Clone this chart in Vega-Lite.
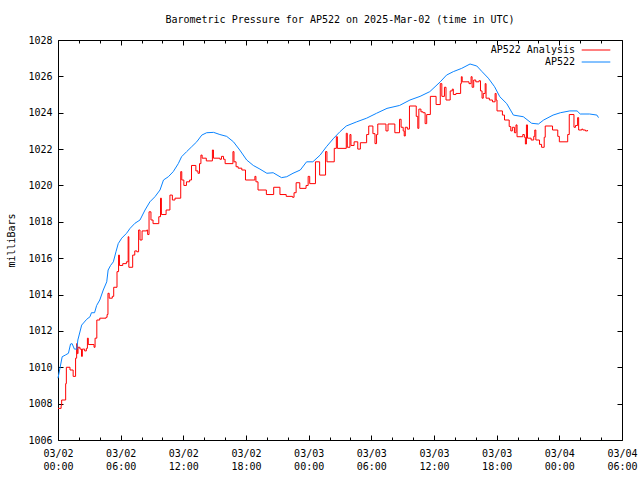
{
  "$schema": "https://vega.github.io/schema/vega-lite/v6.json",
  "width": 564,
  "height": 400,
  "autosize": {"type": "none"},
  "padding": {"left": 58, "top": 40, "right": 18, "bottom": 40},
  "title": {
    "text": "Barometric Pressure for AP522 on 2025-Mar-02 (time in UTC)",
    "font": "DejaVu Sans Mono", "fontSize": 10, "fontWeight": "normal", "color": "black",
    "frame": "group", "anchor": "middle", "offset": 10
  },
  "config": {
    "view": {"stroke": null},
    "font": "DejaVu Sans Mono",
    "axis": {
      "domain": true, "domainColor": "black", "domainWidth": 1,
      "grid": false,
      "tickColor": "black", "tickWidth": 1, "tickSize": -5,
      "labelFont": "DejaVu Sans Mono", "labelFontSize": 10, "labelColor": "black",
      "labelFlush": false, "labelOverlap": false, "labelBound": false,
      "titleFont": "DejaVu Sans Mono", "titleFontSize": 10, "titleFontWeight": "normal", "titleColor": "black"
    },
    "legend": {
      "orient": "none", "legendX": 531, "legendY": 3, "padding": 0,
      "symbolType": "M-2.2,0H2.2", "symbolSize": 169, "symbolStrokeWidth": 1,
      "labelAlign": "right", "labelOffset": -28,
      "labelFont": "DejaVu Sans Mono", "labelFontSize": 10, "labelColor": "black",
      "rowPadding": 0, "title": null
    }
  },
  "data": {"values": [
    {"time": "2025-03-02T00:00:00Z", "series": "AP522 Analysis", "mb": 1007.74},
    {"time": "2025-03-02T00:18:00Z", "series": "AP522 Analysis", "mb": 1007.9},
    {"time": "2025-03-02T00:21:00Z", "series": "AP522 Analysis", "mb": 1008.2},
    {"time": "2025-03-02T00:44:00Z", "series": "AP522 Analysis", "mb": 1009.1},
    {"time": "2025-03-02T00:48:00Z", "series": "AP522 Analysis", "mb": 1010.0},
    {"time": "2025-03-02T01:09:00Z", "series": "AP522 Analysis", "mb": 1009.85},
    {"time": "2025-03-02T01:27:00Z", "series": "AP522 Analysis", "mb": 1009.5},
    {"time": "2025-03-02T01:41:00Z", "series": "AP522 Analysis", "mb": 1010.5},
    {"time": "2025-03-02T01:47:00Z", "series": "AP522 Analysis", "mb": 1011.3},
    {"time": "2025-03-02T01:51:00Z", "series": "AP522 Analysis", "mb": 1010.75},
    {"time": "2025-03-02T01:55:00Z", "series": "AP522 Analysis", "mb": 1011.1},
    {"time": "2025-03-02T02:06:00Z", "series": "AP522 Analysis", "mb": 1011.0},
    {"time": "2025-03-02T02:15:00Z", "series": "AP522 Analysis", "mb": 1010.6},
    {"time": "2025-03-02T02:20:00Z", "series": "AP522 Analysis", "mb": 1011.0},
    {"time": "2025-03-02T02:33:00Z", "series": "AP522 Analysis", "mb": 1010.9},
    {"time": "2025-03-02T02:43:00Z", "series": "AP522 Analysis", "mb": 1011.04},
    {"time": "2025-03-02T02:49:00Z", "series": "AP522 Analysis", "mb": 1011.6},
    {"time": "2025-03-02T02:54:00Z", "series": "AP522 Analysis", "mb": 1011.25},
    {"time": "2025-03-02T03:27:00Z", "series": "AP522 Analysis", "mb": 1011.1},
    {"time": "2025-03-02T03:33:00Z", "series": "AP522 Analysis", "mb": 1011.6},
    {"time": "2025-03-02T03:43:00Z", "series": "AP522 Analysis", "mb": 1012.6},
    {"time": "2025-03-02T04:00:00Z", "series": "AP522 Analysis", "mb": 1012.7},
    {"time": "2025-03-02T04:36:00Z", "series": "AP522 Analysis", "mb": 1012.75},
    {"time": "2025-03-02T04:42:00Z", "series": "AP522 Analysis", "mb": 1012.9},
    {"time": "2025-03-02T04:47:00Z", "series": "AP522 Analysis", "mb": 1014.07},
    {"time": "2025-03-02T04:54:00Z", "series": "AP522 Analysis", "mb": 1013.8},
    {"time": "2025-03-02T05:12:00Z", "series": "AP522 Analysis", "mb": 1013.9},
    {"time": "2025-03-02T05:20:00Z", "series": "AP522 Analysis", "mb": 1014.4},
    {"time": "2025-03-02T05:39:00Z", "series": "AP522 Analysis", "mb": 1015.26},
    {"time": "2025-03-02T05:48:00Z", "series": "AP522 Analysis", "mb": 1016.17},
    {"time": "2025-03-02T05:53:00Z", "series": "AP522 Analysis", "mb": 1015.6},
    {"time": "2025-03-02T06:12:00Z", "series": "AP522 Analysis", "mb": 1015.7},
    {"time": "2025-03-02T06:33:00Z", "series": "AP522 Analysis", "mb": 1015.8},
    {"time": "2025-03-02T06:43:00Z", "series": "AP522 Analysis", "mb": 1017.18},
    {"time": "2025-03-02T06:47:00Z", "series": "AP522 Analysis", "mb": 1015.5},
    {"time": "2025-03-02T07:09:00Z", "series": "AP522 Analysis", "mb": 1016.17},
    {"time": "2025-03-02T07:21:00Z", "series": "AP522 Analysis", "mb": 1016.4},
    {"time": "2025-03-02T07:33:00Z", "series": "AP522 Analysis", "mb": 1016.35},
    {"time": "2025-03-02T07:43:00Z", "series": "AP522 Analysis", "mb": 1017.55},
    {"time": "2025-03-02T07:51:00Z", "series": "AP522 Analysis", "mb": 1017.0},
    {"time": "2025-03-02T08:03:00Z", "series": "AP522 Analysis", "mb": 1017.5},
    {"time": "2025-03-02T08:30:00Z", "series": "AP522 Analysis", "mb": 1017.55},
    {"time": "2025-03-02T08:35:00Z", "series": "AP522 Analysis", "mb": 1017.3},
    {"time": "2025-03-02T08:43:00Z", "series": "AP522 Analysis", "mb": 1018.55},
    {"time": "2025-03-02T08:54:00Z", "series": "AP522 Analysis", "mb": 1018.1},
    {"time": "2025-03-02T09:06:00Z", "series": "AP522 Analysis", "mb": 1017.9},
    {"time": "2025-03-02T09:39:00Z", "series": "AP522 Analysis", "mb": 1018.28},
    {"time": "2025-03-02T09:49:00Z", "series": "AP522 Analysis", "mb": 1019.3},
    {"time": "2025-03-02T09:54:00Z", "series": "AP522 Analysis", "mb": 1018.4},
    {"time": "2025-03-02T10:21:00Z", "series": "AP522 Analysis", "mb": 1018.65},
    {"time": "2025-03-02T10:43:00Z", "series": "AP522 Analysis", "mb": 1019.47},
    {"time": "2025-03-02T10:57:00Z", "series": "AP522 Analysis", "mb": 1019.2},
    {"time": "2025-03-02T11:12:00Z", "series": "AP522 Analysis", "mb": 1019.3},
    {"time": "2025-03-02T11:45:00Z", "series": "AP522 Analysis", "mb": 1020.76},
    {"time": "2025-03-02T11:51:00Z", "series": "AP522 Analysis", "mb": 1020.3},
    {"time": "2025-03-02T12:03:00Z", "series": "AP522 Analysis", "mb": 1020.0},
    {"time": "2025-03-02T12:18:00Z", "series": "AP522 Analysis", "mb": 1020.2},
    {"time": "2025-03-02T12:36:00Z", "series": "AP522 Analysis", "mb": 1020.3},
    {"time": "2025-03-02T12:47:00Z", "series": "AP522 Analysis", "mb": 1021.1},
    {"time": "2025-03-02T13:12:00Z", "series": "AP522 Analysis", "mb": 1020.8},
    {"time": "2025-03-02T13:24:00Z", "series": "AP522 Analysis", "mb": 1020.67},
    {"time": "2025-03-02T13:33:00Z", "series": "AP522 Analysis", "mb": 1021.2},
    {"time": "2025-03-02T13:41:00Z", "series": "AP522 Analysis", "mb": 1021.67},
    {"time": "2025-03-02T13:48:00Z", "series": "AP522 Analysis", "mb": 1021.5},
    {"time": "2025-03-02T14:12:00Z", "series": "AP522 Analysis", "mb": 1021.35},
    {"time": "2025-03-02T14:47:00Z", "series": "AP522 Analysis", "mb": 1021.95},
    {"time": "2025-03-02T14:53:00Z", "series": "AP522 Analysis", "mb": 1021.5},
    {"time": "2025-03-02T15:30:00Z", "series": "AP522 Analysis", "mb": 1021.44},
    {"time": "2025-03-02T15:39:00Z", "series": "AP522 Analysis", "mb": 1021.6},
    {"time": "2025-03-02T15:51:00Z", "series": "AP522 Analysis", "mb": 1021.44},
    {"time": "2025-03-02T16:00:00Z", "series": "AP522 Analysis", "mb": 1021.2},
    {"time": "2025-03-02T16:45:00Z", "series": "AP522 Analysis", "mb": 1021.86},
    {"time": "2025-03-02T16:51:00Z", "series": "AP522 Analysis", "mb": 1021.3},
    {"time": "2025-03-02T17:03:00Z", "series": "AP522 Analysis", "mb": 1021.03},
    {"time": "2025-03-02T17:15:00Z", "series": "AP522 Analysis", "mb": 1020.95},
    {"time": "2025-03-02T17:36:00Z", "series": "AP522 Analysis", "mb": 1020.85},
    {"time": "2025-03-02T17:57:00Z", "series": "AP522 Analysis", "mb": 1020.3},
    {"time": "2025-03-02T18:51:00Z", "series": "AP522 Analysis", "mb": 1020.5},
    {"time": "2025-03-02T18:57:00Z", "series": "AP522 Analysis", "mb": 1020.2},
    {"time": "2025-03-02T19:09:00Z", "series": "AP522 Analysis", "mb": 1019.75},
    {"time": "2025-03-02T19:57:00Z", "series": "AP522 Analysis", "mb": 1019.5},
    {"time": "2025-03-02T20:39:00Z", "series": "AP522 Analysis", "mb": 1019.9},
    {"time": "2025-03-02T21:15:00Z", "series": "AP522 Analysis", "mb": 1019.5},
    {"time": "2025-03-02T21:51:00Z", "series": "AP522 Analysis", "mb": 1019.4},
    {"time": "2025-03-02T22:27:00Z", "series": "AP522 Analysis", "mb": 1019.35},
    {"time": "2025-03-02T22:36:00Z", "series": "AP522 Analysis", "mb": 1019.6},
    {"time": "2025-03-02T22:48:00Z", "series": "AP522 Analysis", "mb": 1020.15},
    {"time": "2025-03-02T23:09:00Z", "series": "AP522 Analysis", "mb": 1019.84},
    {"time": "2025-03-02T23:45:00Z", "series": "AP522 Analysis", "mb": 1020.0},
    {"time": "2025-03-02T23:57:00Z", "series": "AP522 Analysis", "mb": 1020.5},
    {"time": "2025-03-03T00:06:00Z", "series": "AP522 Analysis", "mb": 1020.1},
    {"time": "2025-03-03T00:39:00Z", "series": "AP522 Analysis", "mb": 1021.3},
    {"time": "2025-03-03T01:03:00Z", "series": "AP522 Analysis", "mb": 1020.57},
    {"time": "2025-03-03T01:37:00Z", "series": "AP522 Analysis", "mb": 1021.86},
    {"time": "2025-03-03T01:45:00Z", "series": "AP522 Analysis", "mb": 1021.3},
    {"time": "2025-03-03T02:27:00Z", "series": "AP522 Analysis", "mb": 1022.04},
    {"time": "2025-03-03T02:39:00Z", "series": "AP522 Analysis", "mb": 1022.68},
    {"time": "2025-03-03T02:45:00Z", "series": "AP522 Analysis", "mb": 1022.04},
    {"time": "2025-03-03T03:36:00Z", "series": "AP522 Analysis", "mb": 1022.87},
    {"time": "2025-03-03T03:42:00Z", "series": "AP522 Analysis", "mb": 1022.1},
    {"time": "2025-03-03T03:57:00Z", "series": "AP522 Analysis", "mb": 1022.8},
    {"time": "2025-03-03T04:03:00Z", "series": "AP522 Analysis", "mb": 1022.2},
    {"time": "2025-03-03T04:21:00Z", "series": "AP522 Analysis", "mb": 1022.4},
    {"time": "2025-03-03T04:42:00Z", "series": "AP522 Analysis", "mb": 1022.0},
    {"time": "2025-03-03T04:57:00Z", "series": "AP522 Analysis", "mb": 1022.35},
    {"time": "2025-03-03T05:33:00Z", "series": "AP522 Analysis", "mb": 1022.8},
    {"time": "2025-03-03T05:45:00Z", "series": "AP522 Analysis", "mb": 1023.27},
    {"time": "2025-03-03T06:09:00Z", "series": "AP522 Analysis", "mb": 1022.85},
    {"time": "2025-03-03T06:21:00Z", "series": "AP522 Analysis", "mb": 1022.3},
    {"time": "2025-03-03T06:30:00Z", "series": "AP522 Analysis", "mb": 1022.8},
    {"time": "2025-03-03T06:37:00Z", "series": "AP522 Analysis", "mb": 1023.38},
    {"time": "2025-03-03T07:24:00Z", "series": "AP522 Analysis", "mb": 1023.0},
    {"time": "2025-03-03T07:36:00Z", "series": "AP522 Analysis", "mb": 1023.38},
    {"time": "2025-03-03T08:15:00Z", "series": "AP522 Analysis", "mb": 1022.9},
    {"time": "2025-03-03T08:42:00Z", "series": "AP522 Analysis", "mb": 1023.64},
    {"time": "2025-03-03T08:51:00Z", "series": "AP522 Analysis", "mb": 1023.2},
    {"time": "2025-03-03T09:03:00Z", "series": "AP522 Analysis", "mb": 1023.0},
    {"time": "2025-03-03T09:09:00Z", "series": "AP522 Analysis", "mb": 1022.72},
    {"time": "2025-03-03T09:15:00Z", "series": "AP522 Analysis", "mb": 1023.2},
    {"time": "2025-03-03T09:27:00Z", "series": "AP522 Analysis", "mb": 1023.1},
    {"time": "2025-03-03T09:39:00Z", "series": "AP522 Analysis", "mb": 1024.37},
    {"time": "2025-03-03T10:18:00Z", "series": "AP522 Analysis", "mb": 1023.8},
    {"time": "2025-03-03T10:27:00Z", "series": "AP522 Analysis", "mb": 1023.14},
    {"time": "2025-03-03T10:33:00Z", "series": "AP522 Analysis", "mb": 1024.2},
    {"time": "2025-03-03T10:45:00Z", "series": "AP522 Analysis", "mb": 1024.05},
    {"time": "2025-03-03T10:57:00Z", "series": "AP522 Analysis", "mb": 1024.0},
    {"time": "2025-03-03T11:09:00Z", "series": "AP522 Analysis", "mb": 1023.4},
    {"time": "2025-03-03T11:18:00Z", "series": "AP522 Analysis", "mb": 1023.9},
    {"time": "2025-03-03T11:39:00Z", "series": "AP522 Analysis", "mb": 1024.9},
    {"time": "2025-03-03T12:12:00Z", "series": "AP522 Analysis", "mb": 1024.45},
    {"time": "2025-03-03T12:36:00Z", "series": "AP522 Analysis", "mb": 1025.6},
    {"time": "2025-03-03T12:45:00Z", "series": "AP522 Analysis", "mb": 1024.9},
    {"time": "2025-03-03T13:00:00Z", "series": "AP522 Analysis", "mb": 1025.4},
    {"time": "2025-03-03T13:09:00Z", "series": "AP522 Analysis", "mb": 1024.7},
    {"time": "2025-03-03T13:33:00Z", "series": "AP522 Analysis", "mb": 1025.2},
    {"time": "2025-03-03T13:45:00Z", "series": "AP522 Analysis", "mb": 1025.3},
    {"time": "2025-03-03T13:51:00Z", "series": "AP522 Analysis", "mb": 1025.0},
    {"time": "2025-03-03T14:06:00Z", "series": "AP522 Analysis", "mb": 1025.06},
    {"time": "2025-03-03T14:33:00Z", "series": "AP522 Analysis", "mb": 1025.6},
    {"time": "2025-03-03T14:37:00Z", "series": "AP522 Analysis", "mb": 1025.98},
    {"time": "2025-03-03T14:42:00Z", "series": "AP522 Analysis", "mb": 1025.7},
    {"time": "2025-03-03T15:21:00Z", "series": "AP522 Analysis", "mb": 1025.6},
    {"time": "2025-03-03T15:33:00Z", "series": "AP522 Analysis", "mb": 1025.98},
    {"time": "2025-03-03T15:39:00Z", "series": "AP522 Analysis", "mb": 1025.4},
    {"time": "2025-03-03T15:48:00Z", "series": "AP522 Analysis", "mb": 1025.8},
    {"time": "2025-03-03T16:00:00Z", "series": "AP522 Analysis", "mb": 1025.7},
    {"time": "2025-03-03T16:18:00Z", "series": "AP522 Analysis", "mb": 1025.76},
    {"time": "2025-03-03T16:27:00Z", "series": "AP522 Analysis", "mb": 1025.2},
    {"time": "2025-03-03T16:36:00Z", "series": "AP522 Analysis", "mb": 1024.8},
    {"time": "2025-03-03T16:43:00Z", "series": "AP522 Analysis", "mb": 1025.06},
    {"time": "2025-03-03T16:54:00Z", "series": "AP522 Analysis", "mb": 1025.6},
    {"time": "2025-03-03T16:59:00Z", "series": "AP522 Analysis", "mb": 1024.8},
    {"time": "2025-03-03T17:18:00Z", "series": "AP522 Analysis", "mb": 1024.7},
    {"time": "2025-03-03T17:36:00Z", "series": "AP522 Analysis", "mb": 1024.6},
    {"time": "2025-03-03T17:51:00Z", "series": "AP522 Analysis", "mb": 1025.06},
    {"time": "2025-03-03T17:57:00Z", "series": "AP522 Analysis", "mb": 1024.7},
    {"time": "2025-03-03T18:02:00Z", "series": "AP522 Analysis", "mb": 1024.1},
    {"time": "2025-03-03T18:33:00Z", "series": "AP522 Analysis", "mb": 1023.87},
    {"time": "2025-03-03T18:45:00Z", "series": "AP522 Analysis", "mb": 1023.6},
    {"time": "2025-03-03T19:12:00Z", "series": "AP522 Analysis", "mb": 1023.24},
    {"time": "2025-03-03T19:21:00Z", "series": "AP522 Analysis", "mb": 1023.0},
    {"time": "2025-03-03T19:30:00Z", "series": "AP522 Analysis", "mb": 1023.2},
    {"time": "2025-03-03T19:42:00Z", "series": "AP522 Analysis", "mb": 1022.9},
    {"time": "2025-03-03T19:51:00Z", "series": "AP522 Analysis", "mb": 1023.33},
    {"time": "2025-03-03T19:57:00Z", "series": "AP522 Analysis", "mb": 1022.68},
    {"time": "2025-03-03T20:30:00Z", "series": "AP522 Analysis", "mb": 1022.8},
    {"time": "2025-03-03T20:39:00Z", "series": "AP522 Analysis", "mb": 1022.65},
    {"time": "2025-03-03T20:45:00Z", "series": "AP522 Analysis", "mb": 1022.28},
    {"time": "2025-03-03T20:51:00Z", "series": "AP522 Analysis", "mb": 1023.33},
    {"time": "2025-03-03T20:57:00Z", "series": "AP522 Analysis", "mb": 1022.6},
    {"time": "2025-03-03T21:18:00Z", "series": "AP522 Analysis", "mb": 1022.5},
    {"time": "2025-03-03T21:33:00Z", "series": "AP522 Analysis", "mb": 1022.7},
    {"time": "2025-03-03T21:39:00Z", "series": "AP522 Analysis", "mb": 1023.05},
    {"time": "2025-03-03T21:45:00Z", "series": "AP522 Analysis", "mb": 1022.5},
    {"time": "2025-03-03T22:06:00Z", "series": "AP522 Analysis", "mb": 1022.26},
    {"time": "2025-03-03T22:18:00Z", "series": "AP522 Analysis", "mb": 1022.1},
    {"time": "2025-03-03T22:33:00Z", "series": "AP522 Analysis", "mb": 1022.65},
    {"time": "2025-03-03T22:39:00Z", "series": "AP522 Analysis", "mb": 1023.27},
    {"time": "2025-03-03T23:21:00Z", "series": "AP522 Analysis", "mb": 1023.05},
    {"time": "2025-03-03T23:51:00Z", "series": "AP522 Analysis", "mb": 1022.7},
    {"time": "2025-03-04T00:00:00Z", "series": "AP522 Analysis", "mb": 1022.4},
    {"time": "2025-03-04T00:48:00Z", "series": "AP522 Analysis", "mb": 1022.8},
    {"time": "2025-03-04T00:57:00Z", "series": "AP522 Analysis", "mb": 1023.9},
    {"time": "2025-03-04T01:24:00Z", "series": "AP522 Analysis", "mb": 1023.2},
    {"time": "2025-03-04T01:33:00Z", "series": "AP522 Analysis", "mb": 1023.3},
    {"time": "2025-03-04T01:45:00Z", "series": "AP522 Analysis", "mb": 1023.73},
    {"time": "2025-03-04T01:51:00Z", "series": "AP522 Analysis", "mb": 1023.05},
    {"time": "2025-03-04T02:09:00Z", "series": "AP522 Analysis", "mb": 1023.1},
    {"time": "2025-03-04T02:15:00Z", "series": "AP522 Analysis", "mb": 1023.05},
    {"time": "2025-03-04T02:30:00Z", "series": "AP522 Analysis", "mb": 1023.0},
    {"time": "2025-03-04T02:42:00Z", "series": "AP522 Analysis", "mb": 1023.05},
    {"time": "2025-03-02T00:00:00Z", "series": "AP522", "mb": 1009.4},
    {"time": "2025-03-02T00:24:00Z", "series": "AP522", "mb": 1010.58},
    {"time": "2025-03-02T00:42:00Z", "series": "AP522", "mb": 1010.67},
    {"time": "2025-03-02T01:00:00Z", "series": "AP522", "mb": 1010.77},
    {"time": "2025-03-02T01:12:00Z", "series": "AP522", "mb": 1011.28},
    {"time": "2025-03-02T01:21:00Z", "series": "AP522", "mb": 1011.3},
    {"time": "2025-03-02T01:34:00Z", "series": "AP522", "mb": 1011.0},
    {"time": "2025-03-02T01:48:00Z", "series": "AP522", "mb": 1011.0},
    {"time": "2025-03-02T01:54:00Z", "series": "AP522", "mb": 1011.5},
    {"time": "2025-03-02T02:16:00Z", "series": "AP522", "mb": 1012.32},
    {"time": "2025-03-02T02:45:00Z", "series": "AP522", "mb": 1012.64},
    {"time": "2025-03-02T03:04:00Z", "series": "AP522", "mb": 1012.78},
    {"time": "2025-03-02T03:12:00Z", "series": "AP522", "mb": 1013.0},
    {"time": "2025-03-02T03:30:00Z", "series": "AP522", "mb": 1013.0},
    {"time": "2025-03-02T03:42:00Z", "series": "AP522", "mb": 1013.4},
    {"time": "2025-03-02T04:00:00Z", "series": "AP522", "mb": 1013.7},
    {"time": "2025-03-02T04:20:00Z", "series": "AP522", "mb": 1014.25},
    {"time": "2025-03-02T04:40:00Z", "series": "AP522", "mb": 1014.7},
    {"time": "2025-03-02T04:48:00Z", "series": "AP522", "mb": 1015.35},
    {"time": "2025-03-02T05:02:00Z", "series": "AP522", "mb": 1015.6},
    {"time": "2025-03-02T05:18:00Z", "series": "AP522", "mb": 1015.8},
    {"time": "2025-03-02T05:33:00Z", "series": "AP522", "mb": 1016.35},
    {"time": "2025-03-02T05:46:00Z", "series": "AP522", "mb": 1016.8},
    {"time": "2025-03-02T06:06:00Z", "series": "AP522", "mb": 1017.1},
    {"time": "2025-03-02T06:34:00Z", "series": "AP522", "mb": 1017.37},
    {"time": "2025-03-02T06:54:00Z", "series": "AP522", "mb": 1017.64},
    {"time": "2025-03-02T07:22:00Z", "series": "AP522", "mb": 1017.92},
    {"time": "2025-03-02T07:51:00Z", "series": "AP522", "mb": 1018.1},
    {"time": "2025-03-02T08:20:00Z", "series": "AP522", "mb": 1018.65},
    {"time": "2025-03-02T08:48:00Z", "series": "AP522", "mb": 1019.1},
    {"time": "2025-03-02T09:17:00Z", "series": "AP522", "mb": 1019.38},
    {"time": "2025-03-02T09:46:00Z", "series": "AP522", "mb": 1019.75},
    {"time": "2025-03-02T10:06:00Z", "series": "AP522", "mb": 1020.3},
    {"time": "2025-03-02T10:34:00Z", "series": "AP522", "mb": 1020.48},
    {"time": "2025-03-02T11:02:00Z", "series": "AP522", "mb": 1020.76},
    {"time": "2025-03-02T11:31:00Z", "series": "AP522", "mb": 1021.2},
    {"time": "2025-03-02T11:50:00Z", "series": "AP522", "mb": 1021.58},
    {"time": "2025-03-02T12:19:00Z", "series": "AP522", "mb": 1021.86},
    {"time": "2025-03-02T12:48:00Z", "series": "AP522", "mb": 1022.13},
    {"time": "2025-03-02T13:17:00Z", "series": "AP522", "mb": 1022.4},
    {"time": "2025-03-02T13:46:00Z", "series": "AP522", "mb": 1022.77},
    {"time": "2025-03-02T14:14:00Z", "series": "AP522", "mb": 1022.9},
    {"time": "2025-03-02T14:54:00Z", "series": "AP522", "mb": 1022.92},
    {"time": "2025-03-02T15:30:00Z", "series": "AP522", "mb": 1022.8},
    {"time": "2025-03-02T16:09:00Z", "series": "AP522", "mb": 1022.7},
    {"time": "2025-03-02T16:48:00Z", "series": "AP522", "mb": 1022.4},
    {"time": "2025-03-02T17:24:00Z", "series": "AP522", "mb": 1021.95},
    {"time": "2025-03-02T18:04:00Z", "series": "AP522", "mb": 1021.4},
    {"time": "2025-03-02T18:42:00Z", "series": "AP522", "mb": 1021.1},
    {"time": "2025-03-02T19:20:00Z", "series": "AP522", "mb": 1020.9},
    {"time": "2025-03-02T20:00:00Z", "series": "AP522", "mb": 1020.67},
    {"time": "2025-03-02T20:36:00Z", "series": "AP522", "mb": 1020.7},
    {"time": "2025-03-02T21:24:00Z", "series": "AP522", "mb": 1020.43},
    {"time": "2025-03-02T21:54:00Z", "series": "AP522", "mb": 1020.48},
    {"time": "2025-03-02T22:30:00Z", "series": "AP522", "mb": 1020.67},
    {"time": "2025-03-02T23:12:00Z", "series": "AP522", "mb": 1020.85},
    {"time": "2025-03-02T23:48:00Z", "series": "AP522", "mb": 1021.3},
    {"time": "2025-03-03T00:24:00Z", "series": "AP522", "mb": 1021.3},
    {"time": "2025-03-03T01:06:00Z", "series": "AP522", "mb": 1021.67},
    {"time": "2025-03-03T01:42:00Z", "series": "AP522", "mb": 1022.13},
    {"time": "2025-03-03T02:24:00Z", "series": "AP522", "mb": 1022.6},
    {"time": "2025-03-03T03:00:00Z", "series": "AP522", "mb": 1022.96},
    {"time": "2025-03-03T03:36:00Z", "series": "AP522", "mb": 1023.27},
    {"time": "2025-03-03T04:36:00Z", "series": "AP522", "mb": 1023.5},
    {"time": "2025-03-03T05:33:00Z", "series": "AP522", "mb": 1023.7},
    {"time": "2025-03-03T06:30:00Z", "series": "AP522", "mb": 1023.97},
    {"time": "2025-03-03T07:30:00Z", "series": "AP522", "mb": 1024.24},
    {"time": "2025-03-03T08:42:00Z", "series": "AP522", "mb": 1024.4},
    {"time": "2025-03-03T09:42:00Z", "series": "AP522", "mb": 1024.7},
    {"time": "2025-03-03T10:40:00Z", "series": "AP522", "mb": 1024.9},
    {"time": "2025-03-03T11:36:00Z", "series": "AP522", "mb": 1025.16},
    {"time": "2025-03-03T12:36:00Z", "series": "AP522", "mb": 1025.7},
    {"time": "2025-03-03T13:12:00Z", "series": "AP522", "mb": 1026.07},
    {"time": "2025-03-03T13:51:00Z", "series": "AP522", "mb": 1026.26},
    {"time": "2025-03-03T14:39:00Z", "series": "AP522", "mb": 1026.44},
    {"time": "2025-03-03T15:27:00Z", "series": "AP522", "mb": 1026.68},
    {"time": "2025-03-03T16:06:00Z", "series": "AP522", "mb": 1026.57},
    {"time": "2025-03-03T16:36:00Z", "series": "AP522", "mb": 1026.26},
    {"time": "2025-03-03T17:12:00Z", "series": "AP522", "mb": 1025.9},
    {"time": "2025-03-03T17:48:00Z", "series": "AP522", "mb": 1025.43},
    {"time": "2025-03-03T18:18:00Z", "series": "AP522", "mb": 1024.88},
    {"time": "2025-03-03T18:58:00Z", "series": "AP522", "mb": 1024.5},
    {"time": "2025-03-03T19:36:00Z", "series": "AP522", "mb": 1023.87},
    {"time": "2025-03-03T20:33:00Z", "series": "AP522", "mb": 1023.78},
    {"time": "2025-03-03T21:21:00Z", "series": "AP522", "mb": 1023.42},
    {"time": "2025-03-03T22:00:00Z", "series": "AP522", "mb": 1023.38},
    {"time": "2025-03-03T22:30:00Z", "series": "AP522", "mb": 1023.6},
    {"time": "2025-03-03T23:24:00Z", "series": "AP522", "mb": 1023.87},
    {"time": "2025-03-04T00:06:00Z", "series": "AP522", "mb": 1024.0},
    {"time": "2025-03-04T01:00:00Z", "series": "AP522", "mb": 1024.1},
    {"time": "2025-03-04T01:42:00Z", "series": "AP522", "mb": 1024.1},
    {"time": "2025-03-04T02:00:00Z", "series": "AP522", "mb": 1023.93},
    {"time": "2025-03-04T02:54:00Z", "series": "AP522", "mb": 1023.93},
    {"time": "2025-03-04T03:36:00Z", "series": "AP522", "mb": 1023.87},
    {"time": "2025-03-04T03:45:00Z", "series": "AP522", "mb": 1023.73}
  ]},
  "layer": [
    {
      "transform": [{"filter": "datum.series === 'AP522 Analysis'"}],
      "mark": {"type": "line", "interpolate": "step-after", "strokeWidth": 1},
      "encoding": {
        "x": {"field": "time", "type": "temporal",
          "scale": {"type": "utc", "domain": [1740873600000, 1741068000000], "nice": false},
          "axis": {"orient": "bottom", "title": null,
            "values": [1740873600000, 1740895200000, 1740916800000, 1740938400000, 1740960000000, 1740981600000, 1741003200000, 1741024800000, 1741046400000, 1741068000000],
            "labelExpr": "[utcFormat(datum.value, '%m/%d'), utcFormat(datum.value, '%H:%M')]",
            "labelBaseline": "top", "labelLineHeight": 13, "labelPadding": 13}},
        "y": {"field": "mb", "type": "quantitative",
          "scale": {"domain": [1006, 1028], "nice": false, "zero": false},
          "axis": {"orient": "left", "title": "milliBars",
            "values": [1006, 1008, 1010, 1012, 1014, 1016, 1018, 1020, 1022, 1024, 1026, 1028],
            "format": "d", "labelPadding": 11,
            "titleAngle": -90, "titleX": -47, "titleY": 200, "titleAlign": "center", "titleBaseline": "middle"}},
        "color": {"field": "series", "type": "nominal",
          "scale": {"domain": ["AP522 Analysis", "AP522"], "range": ["#ff0000", "#0a84ff"]},
          "legend": {"title": null}}
      }
    },
    {
      "transform": [{"filter": "datum.series === 'AP522'"}],
      "mark": {"type": "line", "strokeWidth": 1},
      "encoding": {
        "x": {"field": "time", "type": "temporal", "axis": {"orient": "bottom", "title": null, "labels": false, "domain": false,
          "values": [1740880800000, 1740888000000, 1740902400000, 1740909600000, 1740924000000, 1740931200000, 1740945600000, 1740952800000, 1740967200000, 1740974400000, 1740988800000, 1740996000000, 1741010400000, 1741017600000, 1741032000000, 1741039200000, 1741053600000, 1741060800000],
          "tickSize": -3}},
        "y": {"field": "mb", "type": "quantitative", "axis": {"orient": "right", "title": null, "labels": false,
          "values": [1006, 1008, 1010, 1012, 1014, 1016, 1018, 1020, 1022, 1024, 1026, 1028]}},
        "color": {"field": "series", "type": "nominal"}
      }
    },
    {
      "mark": {"type": "line", "opacity": 0},
      "encoding": {
        "x": {"field": "time", "type": "temporal", "axis": {"orient": "top", "title": null, "labels": false,
          "values": [1740873600000, 1740895200000, 1740916800000, 1740938400000, 1740960000000, 1740981600000, 1741003200000, 1741024800000, 1741046400000, 1741068000000]}},
        "y": {"field": "mb", "type": "quantitative", "axis": null},
        "detail": {"field": "series"}
      }
    },
    {
      "mark": {"type": "line", "opacity": 0},
      "encoding": {
        "x": {"field": "time", "type": "temporal", "axis": {"orient": "top", "title": null, "labels": false, "domain": false, "tickSize": -3,
          "values": [1740880800000, 1740888000000, 1740902400000, 1740909600000, 1740924000000, 1740931200000, 1740945600000, 1740952800000, 1740967200000, 1740974400000, 1740988800000, 1740996000000, 1741010400000, 1741017600000, 1741032000000, 1741039200000, 1741053600000, 1741060800000]}},
        "y": {"field": "mb", "type": "quantitative", "axis": null},
        "detail": {"field": "series"}
      }
    }
  ],
  "resolve": {"axis": {"x": "independent", "y": "independent"}}
}
